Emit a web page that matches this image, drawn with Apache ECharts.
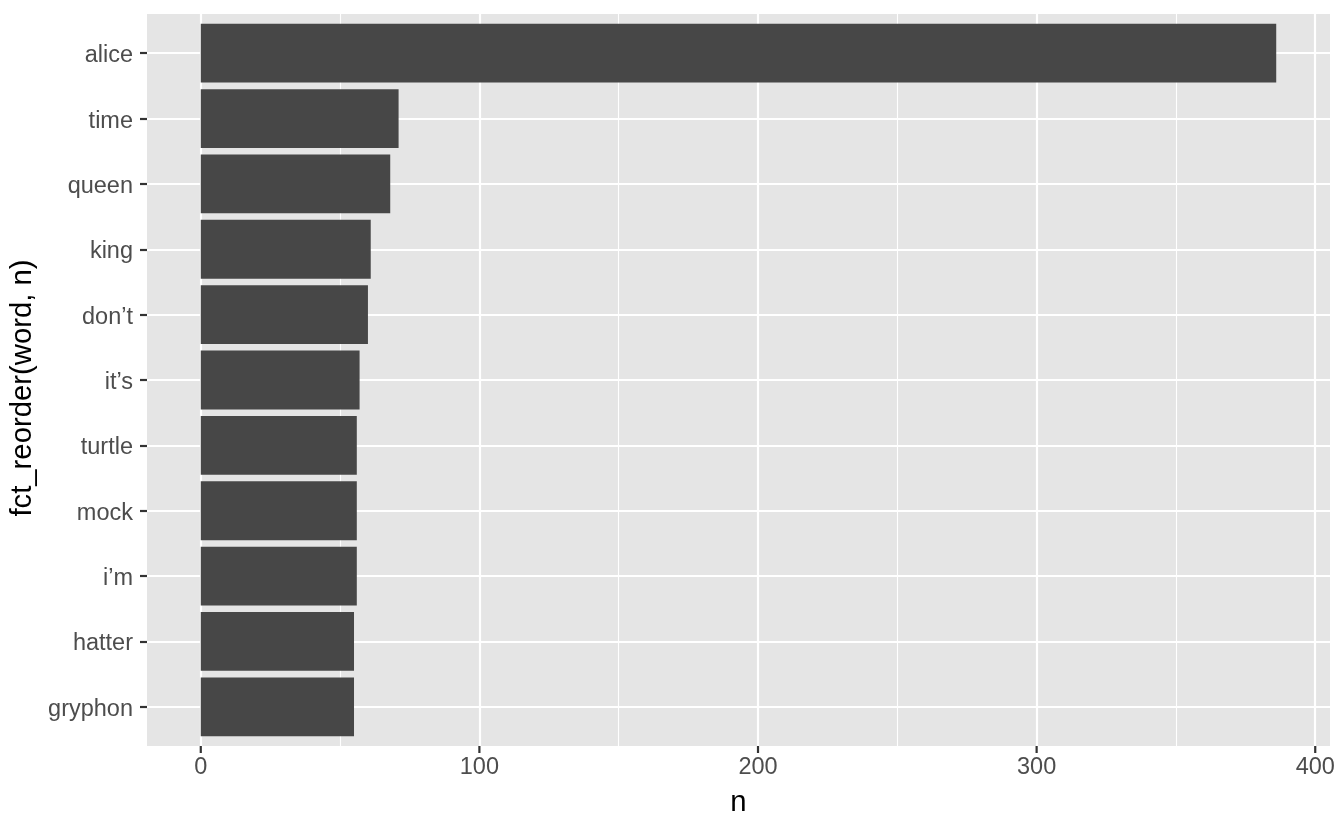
<!DOCTYPE html>
<html>
<head>
<meta charset="utf-8">
<script src="https://cdn.jsdelivr.net/npm/echarts@6/dist/echarts.min.js"></script>
<style>
html,body{margin:0;padding:0;background:#fff;}
#chart{width:1344px;height:830px;}
</style>
</head>
<body>
<div id="chart"></div>
<script>
// ---- data ----
const words = ['alice', 'time', 'queen', 'king', 'don’t', 'it’s', 'turtle', 'mock', 'i’m', 'hatter', 'gryphon'];
const counts = [386, 71, 68, 61, 60, 57, 56, 56, 56, 55, 55];
const majorTicks = [0, 100, 200, 300, 400];
const minorTicks = [50, 150, 250, 350];
const xTitle = 'n';
const yTitle = 'fct_reorder(word, n)';

const FONT = '"Liberation Sans", Arial, Helvetica, sans-serif';
const xMin = -19.3, xMax = 405.3;

const chart = echarts.init(document.getElementById('chart'), null, {renderer: 'canvas'});

const lineBase = {symbol: ['none', 'none'], silent: true, animation: false, label: {show: false}, z: 1};
const hiddenLine = {show: true, onZero: false, lineStyle: {color: 'rgba(0,0,0,0)', width: 1}};

chart.setOption({
  animation: false,
  backgroundColor: '#ffffff',
  grid: [
    {left: 147, right: 14, top: 14, bottom: 84, show: true, backgroundColor: '#E5E5E5', borderWidth: 0},
    {left: 147, right: 14, top: 20.5, bottom: 90.5, show: false}
  ],
  xAxis: [
    {
      type: 'value', gridIndex: 0, min: xMin, max: xMax, position: 'bottom',
      name: xTitle, nameLocation: 'middle', nameGap: 42,
      nameTextStyle: {fontFamily: FONT, fontSize: 29.3, color: '#000'},
      axisLine: hiddenLine,
      axisTick: {show: false},
      axisLabel: {show: true, customValues: majorTicks, margin: 10, fontFamily: FONT, fontSize: 23.5, color: '#4D4D4D'},
      splitLine: {show: false}
    },
    {type: 'value', gridIndex: 1, min: xMin, max: xMax, show: false, splitLine: {show: false}}
  ],
  yAxis: [
    {type: 'value', gridIndex: 0, min: 0, max: 1, show: false, splitLine: {show: false}},
    {
      type: 'category', gridIndex: 1, data: words, inverse: true, position: 'left',
      name: yTitle, nameLocation: 'middle', nameGap: 98, nameRotate: 90,
      nameTextStyle: {fontFamily: FONT, fontSize: 29.3, color: '#000', padding: [0, 16, 0, 0]},
      axisLine: hiddenLine,
      axisTick: {show: true, inside: false, alignWithLabel: true, length: 7, lineStyle: {color: '#333333', width: 2.2}},
      axisLabel: {margin: 14, fontFamily: FONT, fontSize: 23.5, color: '#4D4D4D', verticalAlign: 'top', lineHeight: 5},
      splitLine: {show: false}
    }
  ],
  series: [
    {
      type: 'line', xAxisIndex: 0, yAxisIndex: 0, data: [], z: 1,
      markLine: Object.assign({}, lineBase, {
        data: minorTicks.map(v => ({xAxis: v, lineStyle: {color: '#ffffff', width: 1.1, type: 'solid'}}))
          .concat(majorTicks.map(v => ({xAxis: v, lineStyle: {color: '#ffffff', width: 2.2, type: 'solid'}})))
      })
    },
    {
      type: 'line', xAxisIndex: 1, yAxisIndex: 1, data: [], z: 1,
      markLine: Object.assign({}, lineBase, {
        data: words.map(w => ({yAxis: w, lineStyle: {color: '#ffffff', width: 2.2, type: 'solid'}}))
      })
    },
    {
      type: 'bar', xAxisIndex: 1, yAxisIndex: 1, data: counts, z: 3,
      barCategoryGap: '10%',
      itemStyle: {color: '#474747'}
    }
  ]
});

// x-axis tick marks: positions come from the chart's own x scale (convertToPixel)
const tickEls = majorTicks.map(function (v) {
  const p = chart.convertToPixel({xAxisIndex: 0, yAxisIndex: 0}, [v, 0]);
  return {
    type: 'line', z: 100, silent: true,
    shape: {x1: p[0], y1: p[1], x2: p[0], y2: p[1] + 7},
    style: {stroke: '#333333', lineWidth: 2.2}
  };
});
chart.setOption({graphic: {elements: tickEls}});
</script>
</body>
</html>
